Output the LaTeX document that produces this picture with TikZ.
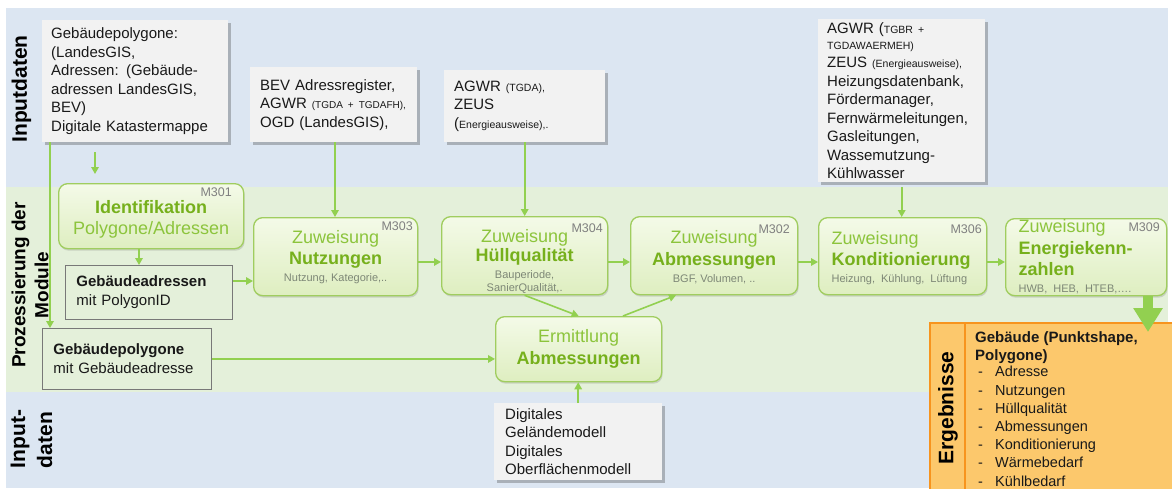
\documentclass[tikz,border=0pt]{standalone}
\usepackage{fontspec}
\setmainfont{Liberation Sans}
\usetikzlibrary{arrows.meta,shadows}

% colours
\definecolor{bandblue}{RGB}{220,230,242}
\definecolor{bandgreen}{RGB}{228,240,218}
\definecolor{boxgray}{RGB}{242,242,242}
\definecolor{linkgreen}{RGB}{146,208,80}
\definecolor{modborder}{RGB}{160,205,95}
\definecolor{modtop}{RGB}{244,250,232}
\definecolor{modbot}{RGB}{222,238,192}
\definecolor{txtlight}{RGB}{140,196,60}
\definecolor{txtdark}{RGB}{118,176,28}
\definecolor{subgray}{RGB}{125,135,118}
\definecolor{labgray}{RGB}{128,128,128}
\definecolor{ergfill}{RGB}{252,200,108}
\definecolor{ergline}{RGB}{247,148,30}
\definecolor{framegray}{RGB}{120,120,120}
\definecolor{srctext}{RGB}{25,25,25}

% font helpers
\newcommand\srcfont{\fontsize{15}{18.5}\selectfont}
\newcommand\srcsmall{\fontsize{10.5}{12}\selectfont}
\newcommand\modreg{\color{txtlight}}
\newcommand\modbold{\bfseries\color{txtdark}}
\newcommand\modsub{\fontsize{11}{13}\selectfont\color{subgray}}
\newcommand\ergtitle{\bfseries\fontsize{15}{18.5}\selectfont}
\newcommand\ergitem[1]{\hspace*{3pt}\makebox[17pt][l]{-}#1}
% invisible strut that pushes the first line of a module text down
\newcommand\lift[1]{\rule{0pt}{#1}}

\tikzset{
  srcbox/.style={fill=boxgray, anchor=north west, inner ysep=0pt, align=left,
    font=\srcfont, text=srctext,
    drop shadow={shadow xshift=2.5pt, shadow yshift=-2.5pt, opacity=.35, fill=black!70}},
  modbox/.style={draw=modborder, line width=1.3pt, rounded corners=9pt,
    top color=modtop, bottom color=modbot, anchor=north west, inner sep=0pt,
    align=center, font=\fontsize{18}{21}\selectfont,
    drop shadow={shadow xshift=1pt, shadow yshift=-2pt, opacity=.22, fill=black!60}},
  framebox/.style={draw=framegray, line width=0.9pt, anchor=north west,
    inner xsep=11pt, inner ysep=0pt, align=left, text=srctext,
    font=\fontsize{15}{19}\selectfont},
  mlab/.style={anchor=east, inner sep=0pt, text=labgray, font=\fontsize{12.5}{14}\selectfont},
  link/.style={draw=linkgreen, line width=1.6pt, -{Triangle[length=7pt,width=7.5pt]}},
  lanelabel/.style={rotate=90, font=\bfseries\fontsize{21}{27}\selectfont, inner sep=0pt},
}

\begin{document}
\begin{tikzpicture}[x=1pt,y=-1pt]
\useasboundingbox (0,0) rectangle (1172,488);
\clip (0,0) rectangle (1172,488);
\fill[white] (0,0) rectangle (1172,488);

% lanes
\fill[bandblue] (6,8) rectangle (1168,187);
\fill[bandgreen] (6,187) rectangle (1168,392);
\fill[bandblue] (6,392) rectangle (1168,488);

\node[lanelabel] (lane1) at (21.5,89) {Inputdaten};
\node[lanelabel, align=center, font=\bfseries\fontsize{19}{23}\selectfont] (lane2) at (30,285) {Prozessierung der\\Module};
\node[lanelabel, align=left] (lane3) at (31.5,439) {Input-\\daten};

% input data boxes
\node[srcbox, inner xsep=9pt, text width=168pt, minimum height=122pt] (srcA) at (42,20)
  {Gebäudepolygone:\\(LandesGIS,\\Adressen: (Gebäude-\\adressen LandesGIS,\\BEV)\\Digitale Katastermappe};
\node[srcbox, inner xsep=10pt, text width=147pt, minimum height=75pt] (srcB) at (250,67)
  {BEV Adressregister,\\\mbox{AGWR {\fontsize{10}{12}\selectfont (TGDA + TGDAFH),}}\\OGD (LandesGIS),};
\node[srcbox, inner xsep=10pt, text width=141pt, minimum height=72pt] (srcC) at (444,70)
  {AGWR {\srcsmall (TGDA),}\\ZEUS\\({\srcsmall Energieausweise),.}};
\node[srcbox, inner xsep=9pt, text width=149pt, minimum height=163pt] (srcD) at (818,19)
  {AGWR ({\srcsmall TGBR +}\\[-3pt]{\srcsmall TGDAWAERMEH)}\\ZEUS {\srcsmall (Energieausweise),}\\Heizungsdatenbank,\\Fördermanager,\\Fernwärmeleitungen,\\Gasleitungen,\\Wassemutzung-\\Kühlwasser};
\node[srcbox, inner xsep=11pt, text width=146pt, minimum height=77pt] (srcE) at (494,403)
  {Digitales\\Geländemodell\\Digitales\\Oberflächenmodell};

% processing modules
\node[modbox, minimum width=185pt, minimum height=65pt] (m301) at (58,183)
  {\lift{19pt}{\modbold Identifikation}\\{\modreg Polygone/Adressen}};
\node[modbox, minimum width=164pt, minimum height=78pt] (m303) at (253,217)
  {{\modreg Zuweisung}\\{\modbold Nutzungen}\\[-4pt]{\modsub Nutzung, Kategorie,..}};
\node[modbox, minimum width=166pt, minimum height=78pt] (m304) at (441,216)
  {\lift{25pt}{\modreg Zuweisung}\\[-2pt]{\modbold Hüllqualität}\\[-4pt]{\modsub Bauperiode,}\\[-8pt]{\modsub SanierQualität,.}};
\node[modbox, minimum width=167pt, minimum height=78pt] (m302) at (630,216)
  {\lift{17pt}{\modreg Zuweisung}\\[1pt]{\modbold Abmessungen}\\[-4pt]{\modsub BGF, Volumen, ..}};
\node[modbox, align=left, inner xsep=13pt, text width=142pt, minimum height=77pt] (m306) at (818,217)
  {\lift{17pt}{\modreg Zuweisung}\\{\modbold Konditionierung}\\[-4pt]{\modsub Heizung, Kühlung, Lüftung}};
\node[modbox, align=left, inner xsep=13pt, text width=135pt, minimum height=77pt] (m309) at (1005,218)
  {{\modreg Zuweisung}\\[1pt]{\modbold Energiekenn-}\\{\modbold zahlen}\\[-4pt]{\modsub HWB, HEB, HTEB,….}};
\node[modbox, minimum width=166pt, minimum height=65pt] (erm) at (495,316)
  {{\modreg Ermittlung}\\[1pt]{\modbold Abmessungen}};

% module numbers
\node[mlab] (l301) at (232,192) {M301};
\node[mlab] (l303) at (413,226) {M303};
\node[mlab] (l304) at (603,228) {M304};
\node[mlab] (l302) at (790,229) {M302};
\node[mlab] (l306) at (982,229) {M306};
\node[mlab] (l309) at (1160,227) {M309};

% intermediate results
\node[framebox, text width=145pt, minimum height=54pt] (gadr) at (65,265)
  {\textbf{Gebäudeadressen}\\mit PolygonID};
\node[framebox, text width=147pt, minimum height=61pt] (gpoly) at (42,328)
  {\textbf{Gebäudepolygone}\\mit Gebäudeadresse};

% results
\node[fill=ergfill, anchor=north west, minimum width=250pt, minimum height=175pt, inner sep=0pt] (erg) at (930,323) {};
\draw[ergline, line width=2.5pt] (erg.south west) -- (erg.north west) -- (erg.north east);
\draw[ergline, line width=2.5pt] ([xshift=35pt]erg.north west) -- ([xshift=35pt]erg.south west);
\node[lanelabel] (ergl) at (948,408) {Ergebnisse};
\node[anchor=north west, align=left, inner sep=0pt, text=srctext, font=\fontsize{14.5}{18.2}\selectfont] (ergt) at (975,331)
  {{\ergtitle Gebäude (Punktshape,}\\{\ergtitle Polygone)}\\[-1.5pt]
   \ergitem{Adresse}\\\ergitem{Nutzungen}\\\ergitem{Hüllqualität}\\\ergitem{Abmessungen}\\
   \ergitem{Konditionierung}\\\ergitem{Wärmebedarf}\\\ergitem{Kühlbedarf}};

% connectors
\coordinate (xA) at (50,0);
\coordinate (s1) at (95,152);
\coordinate (s2) at (95,174);
\coordinate (xB) at (335,0);
\coordinate (xG) at (139,0);
\coordinate (yG) at (0,281);
\coordinate (yR) at (0,262);
\coordinate (xE1) at (623,0);
\coordinate (xE2) at (676,0);
\coordinate (xBig) at (1148,0);
\coordinate (bigTip) at (1148,332);

\draw[link] (srcA.south -| xA) -- (gpoly.north -| xA);
\draw[link] (s1) -- (s2);
\draw[link] (srcB.south -| xB) -- (m303.north -| xB);
\draw[link] (srcC.south) -- (srcC.south |- m304.north);
\draw[link] ([yshift=-5pt]srcD.south) -- (srcD.south |- m306.north);
\draw[link] (m301.south -| xG) -- (gadr.north -| xG);
\draw[link] (gadr.east |- yG) -- (m303.west |- yG);
\draw[link] (m303.east |- yR) -- (m304.west |- yR);
\draw[link] (m304.east |- yR) -- (m302.west |- yR);
\draw[link] (m302.east |- yR) -- (m306.west |- yR);
\draw[link] (m306.east |- yR) -- (m309.west |- yR);
\draw[link] (gpoly.east) -- (gpoly.east -| erm.west);
\draw[link] (m304.south) -- (erm.north);
\draw[link] (erm.north -| xE1) -- (m302.south -| xE2);
\draw[link] (srcE.north) -- (srcE.north |- erm.south);
\draw[draw=linkgreen, line width=10pt, -{Triangle[length=24pt,width=28pt]}] (m309.south -| xBig) -- (bigTip);
\end{tikzpicture}
\end{document}
